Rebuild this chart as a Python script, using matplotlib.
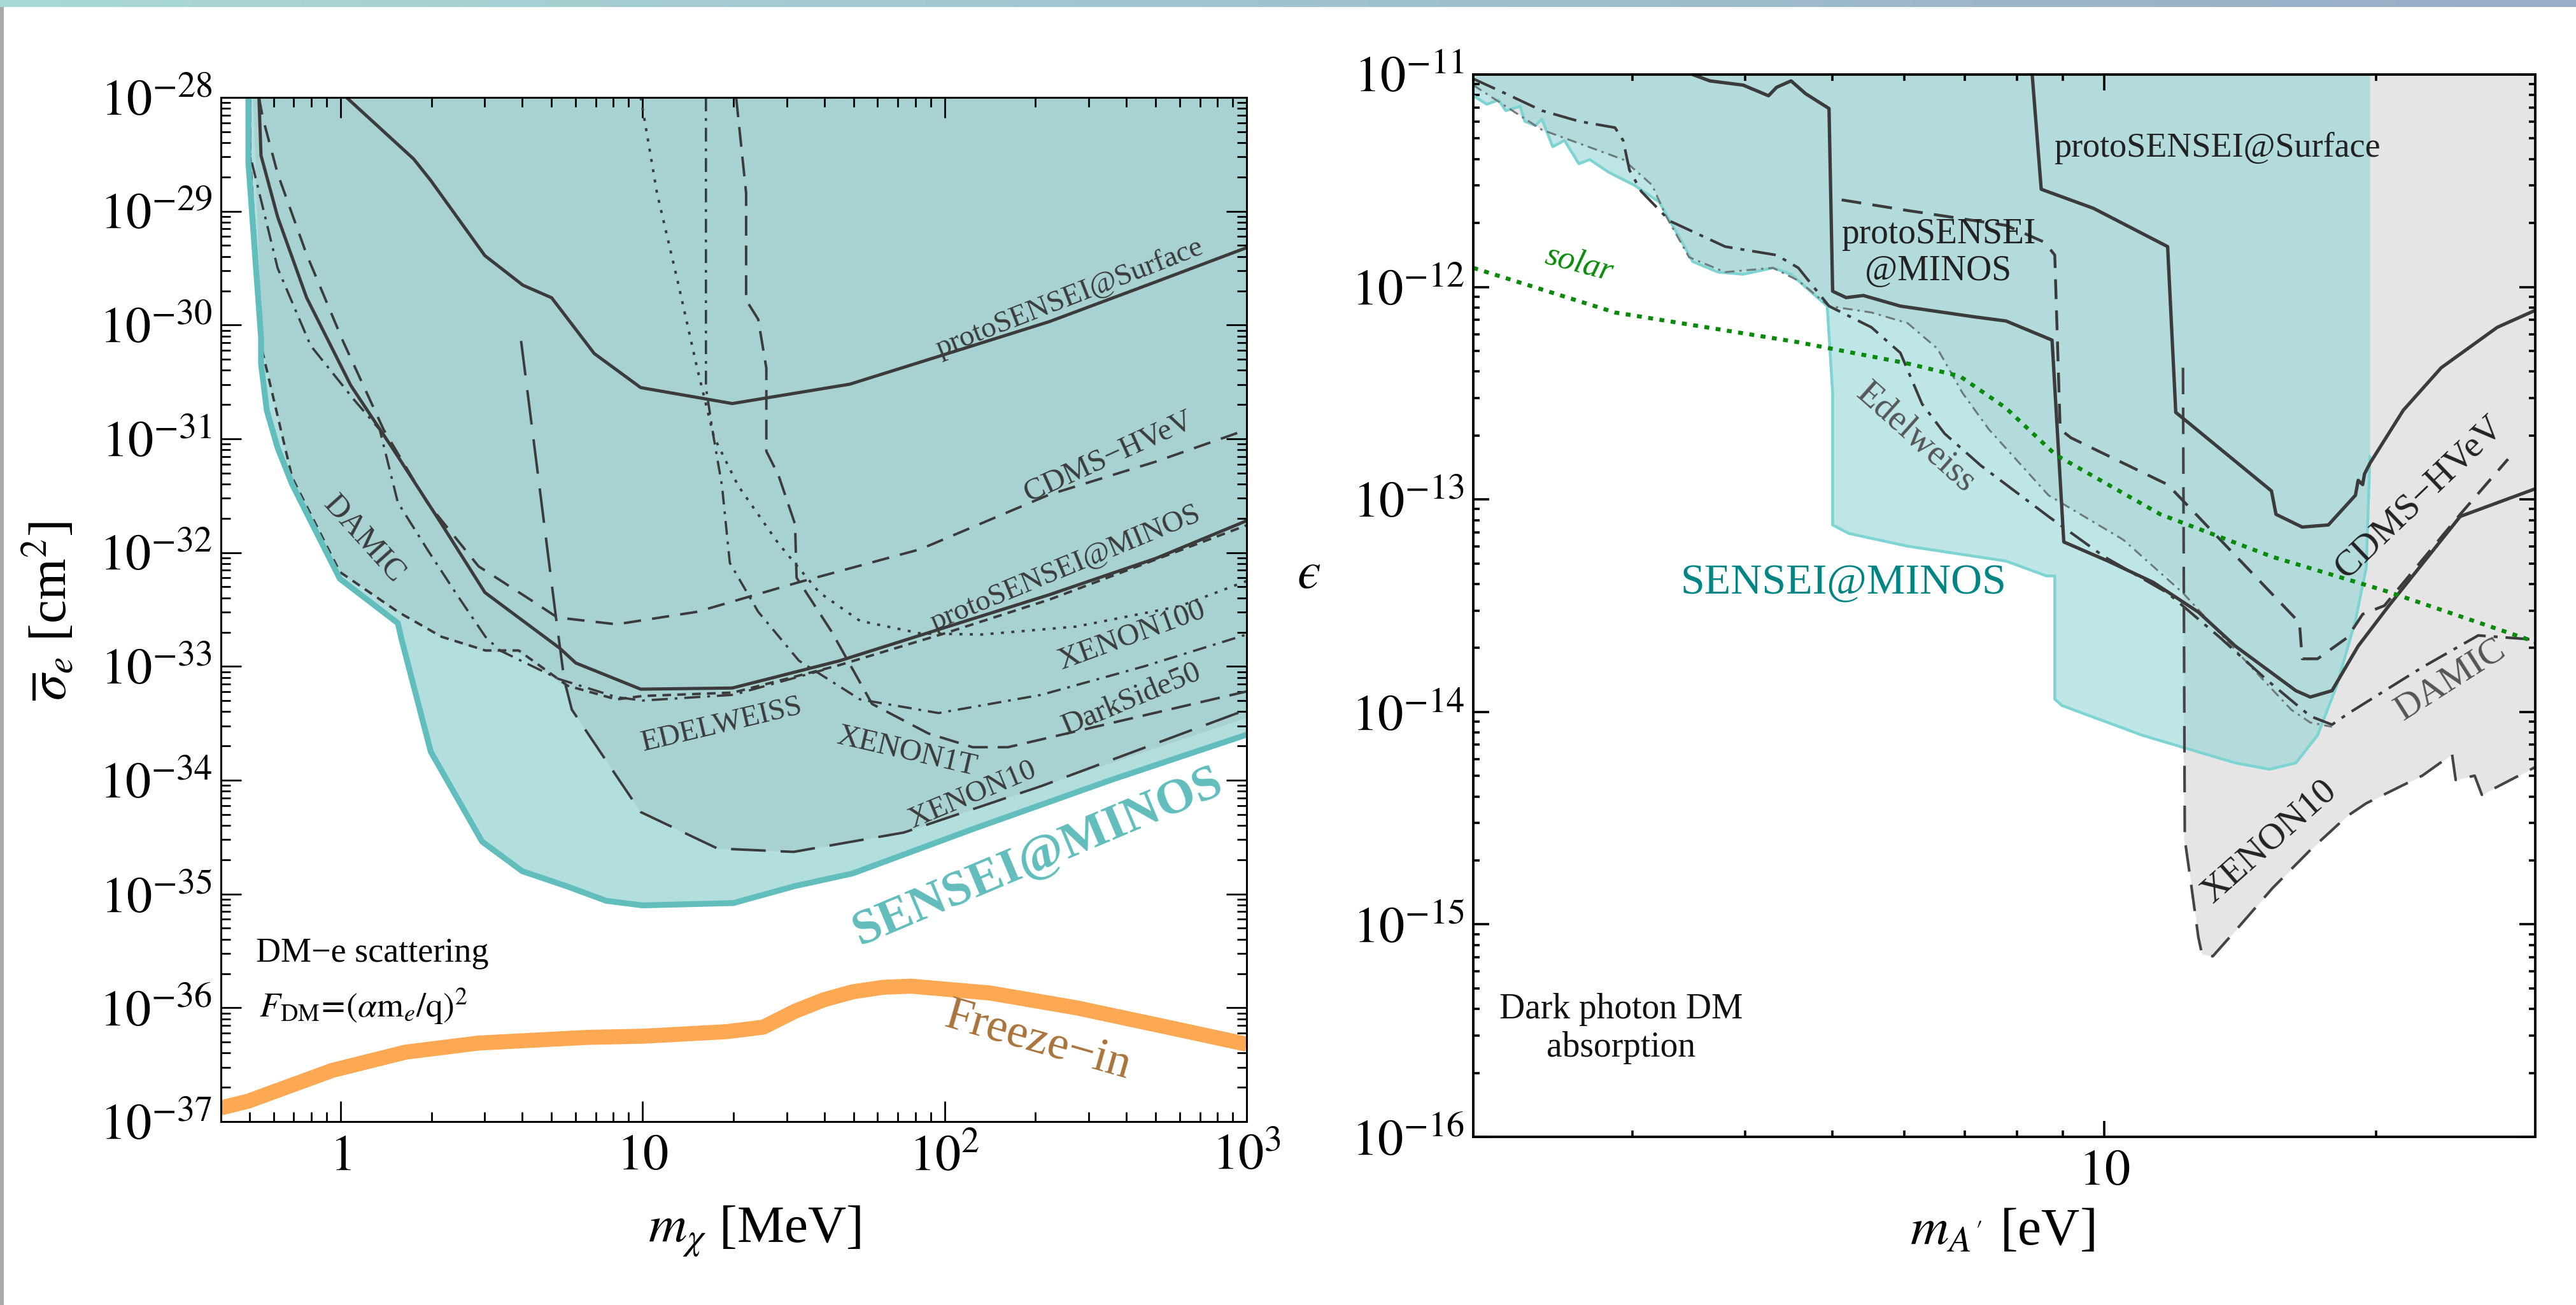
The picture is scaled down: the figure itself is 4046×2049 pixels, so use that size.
import numpy as np
import matplotlib.pyplot as plt
from matplotlib.colors import LinearSegmentedColormap
from matplotlib.patches import Rectangle
from matplotlib.ticker import LogLocator, NullFormatter

plt.rcParams['font.family'] = ['Liberation Serif', 'DejaVu Serif']
plt.rcParams['mathtext.fontset'] = 'stix'

# ---------------- left panel: DM-e scattering ----------------
# all curves: log10(m_chi / MeV), log10(sigma_e / cm^2)
sensei_lm = [-0.305, -0.305, -0.263, -0.263, -0.244, -0.208, -0.16, -0.002, 0.19, 0.202, 0.299,
             0.469, 0.602, 0.747, 0.88, 1.0, 1.30, 1.505, 1.695, 2.093, 2.549, 3.0]
sensei_ls = [-28.0, -28.57, -30.11, -30.34, -30.75, -31.08, -31.40, -32.23, -32.62, -32.76, -33.75,
             -34.54, -34.80, -34.93, -35.06, -35.10, -35.08, -34.93, -34.82, -34.43, -34.00, -33.60]

# lower edge of the region already excluded by other experiments
env_lm = [-0.29, -0.27, -0.26, -0.232, -0.16, 0.0, 0.19, 0.335, 0.48, 0.59, 0.739, 0.766, 0.994,
          1.248, 1.50, 1.865, 2.322, 3.0]
env_ls = [-28.0, -29.5, -30.18, -30.53, -31.34, -32.17, -32.52, -32.74, -32.87, -32.88, -33.17, -33.38,
          -34.28, -34.60, -34.63, -34.46, -34.05, -33.45]

surf_lm = [0.02, 0.242, 0.299, 0.478, 0.604, 0.699, 0.84, 0.994, 1.297, 1.686, 1.987, 2.347, 2.70, 3.0]
surf_ls = [-28.0, -28.54, -28.73, -29.39, -29.65, -29.76, -30.25, -30.55, -30.69, -30.52, -30.27,
           -29.97, -29.62, -29.32]

minos_lm = [-0.27, -0.263, -0.208, -0.112, 0.034, 0.179, 0.335, 0.478, 0.726, 0.779, 0.994, 1.297,
            1.653, 1.987, 2.347, 2.70, 3.0]
minos_ls = [-28.0, -28.51, -29.05, -29.76, -30.53, -31.11, -31.75, -32.35, -32.84, -32.97, -33.20,
            -33.19, -32.95, -32.67, -32.37, -32.05, -31.72]

cdms_lm = [-0.27, -0.257, -0.208, -0.112, 0.008, 0.143, 0.287, 0.457, 0.644, 0.718, 0.914, 1.181,
           1.518, 1.92, 2.347, 2.70, 3.0]
cdms_ls = [-28.0, -28.18, -28.67, -29.38, -30.14, -30.92, -31.56, -32.12, -32.44, -32.57, -32.63,
           -32.52, -32.26, -31.97, -31.49, -31.20, -30.92]

damic_lm = [-0.30, -0.299, -0.263, -0.232, -0.16, -0.002, 0.19, 0.335, 0.48, 0.59, 0.752, 0.914,
            1.0, 1.3, 1.65, 2.0, 2.35, 3.0]
damic_ls = [-28.0, -28.51, -30.18, -30.53, -31.34, -32.17, -32.52, -32.74, -32.86, -32.86, -33.17,
            -33.29, -33.26, -33.23, -32.99, -32.71, -32.41, -31.76]

edel_lm = [-0.30, -0.299, -0.208, -0.099, 0.046, 0.13, 0.19, 0.287, 0.383, 0.48, 0.528, 0.722,
           0.914, 1.0, 1.3, 1.6]
edel_ls = [-28.0, -28.51, -29.50, -30.18, -30.66, -30.92, -31.56, -31.97, -32.36, -32.74, -32.86,
           -33.11, -33.27, -33.30, -33.25, -33.03]

x10_lm = [0.598, 0.712, 0.741, 0.766, 0.994, 1.248, 1.50, 1.865, 2.322, 3.0]
x10_ls = [-30.14, -32.54, -33.12, -33.38, -34.28, -34.60, -34.63, -34.46, -34.05, -33.38]

x100_lm = [0.994, 1.048, 1.116, 1.181, 1.236, 1.316, 1.45, 1.585, 1.72, 1.92, 2.122, 2.436, 2.78, 3.0]
x100_ls = [-28.0, -28.84, -29.61, -30.38, -30.98, -31.41, -31.92, -32.35, -32.60, -32.71, -32.72,
           -32.65, -32.47, -32.25]

ds50_lm = [1.21, 1.21, 1.235, 1.263, 1.289, 1.383, 1.518, 1.72, 1.98, 2.32, 2.66, 3.0]
ds50_ls = [-28.0, -30.55, -30.98, -31.41, -32.09, -32.52, -32.95, -33.29, -33.41, -33.25, -33.0, -32.72]

x1t_lm = [1.31, 1.343, 1.343, 1.383, 1.41, 1.41, 1.45, 1.505, 1.51, 1.625, 1.76, 1.947, 2.093, 2.21,
          2.436, 3.0]
x1t_ls = [-28.0, -28.84, -29.78, -29.95, -30.38, -31.11, -31.32, -31.75, -32.22, -32.69, -33.33,
          -33.59, -33.71, -33.71, -33.57, -33.22]

fi_lm = [-0.396, -0.305, -0.027, 0.215, 0.457, 0.819, 1.0, 1.278, 1.40, 1.505, 1.60, 1.695, 1.796,
         1.888, 2.15, 2.436, 2.72, 3.0]
fi_ls = [-36.88, -36.82, -36.55, -36.39, -36.31, -36.26, -36.25, -36.21, -36.17, -36.03, -35.93,
         -35.86, -35.82, -35.81, -35.87, -36.0, -36.16, -36.32]

left_xticks = [1, 10, 100, 1000]
left_xticklabels = ['$1$', '$10$', '$10^2$', '$10^3$']
left_yexp = [-28, -29, -30, -31, -32, -33, -34, -35, -36, -37]

# ---------------- right panel: dark photon absorption ----------------
# log10(m_A' / eV), log10(epsilon)
rsen_lm = [0.301, 0.316, 0.329, 0.337, 0.353, 0.358, 0.370, 0.377, 0.389, 0.402, 0.418, 0.430, 0.451,
           0.479, 0.507, 0.531, 0.544, 0.572, 0.60, 0.633, 0.653, 0.693, 0.699, 0.699, 0.717, 0.782,
           0.891, 0.936, 0.945, 0.945, 0.953, 1.042, 1.145, 1.183, 1.212, 1.236, 1.257, 1.278, 1.29,
           1.294, 1.294]
rsen_le = [-11.10, -11.14, -11.12, -11.17, -11.15, -11.22, -11.24, -11.21, -11.34, -11.31, -11.42,
           -11.40, -11.46, -11.52, -11.60, -11.78, -11.88, -11.93, -11.94, -11.91, -11.94, -12.09,
           -12.50, -13.12, -13.16, -13.22, -13.29, -13.36, -13.36, -13.94, -13.97, -14.11, -14.24,
           -14.27, -14.24, -14.11, -13.88, -13.57, -13.32, -12.80, -11.0]

renv_lm = [0.301, 0.377, 0.467, 0.499, 0.515, 0.54, 0.58, 0.633, 0.661, 0.695, 0.742, 0.782, 0.815,
           0.843, 0.872, 0.938, 1.021, 1.087, 1.088, 1.095, 1.104, 1.108, 1.12, 1.145, 1.186, 1.228,
           1.269, 1.29, 1.352, 1.385, 1.389, 1.41, 1.418, 1.477]
renv_le = [-11.05, -11.26, -11.40, -11.52, -11.67, -11.86, -11.93, -11.91, -11.97, -12.09, -12.12,
           -12.17, -12.29, -12.50, -12.67, -12.98, -13.19, -13.42, -14.6, -14.78, -15.06, -15.14,
           -15.15, -15.03, -14.83, -14.65, -14.49, -14.43, -14.30, -14.20, -14.32, -14.30, -14.39, -14.26]

rsurf_lm = [0.92, 0.930, 0.988, 1.07, 1.079, 1.185, 1.19, 1.219, 1.248, 1.278, 1.281, 1.286, 1.288,
            1.294, 1.331, 1.373, 1.435, 1.477]
rsurf_le = [-11.0, -11.54, -11.63, -11.81, -12.59, -12.96, -13.07, -13.13, -13.12, -12.98, -12.91,
            -12.93, -12.88, -12.83, -12.58, -12.38, -12.19, -12.11]

rminos_lm = [0.544, 0.563, 0.60, 0.628, 0.637, 0.653, 0.669, 0.695, 0.699, 0.714, 0.733, 0.774, 0.855,
             0.891, 0.942, 0.955, 1.004, 1.054, 1.104, 1.145, 1.212, 1.228, 1.252, 1.281, 1.315,
             1.394, 1.477]
rminos_le = [-11.0, -11.03, -11.05, -11.10, -11.06, -11.03, -11.09, -11.16, -12.02, -12.05, -12.04,
             -12.09, -12.14, -12.16, -12.25, -13.20, -13.29, -13.39, -13.53, -13.69, -13.90, -13.93,
             -13.90, -13.69, -13.50, -13.08, -12.95]

rcdms_lm = [0.709, 0.782, 0.891, 0.934, 0.945, 0.951, 0.963, 1.07, 1.216, 1.219, 1.236, 1.269, 1.286,
            1.310, 1.394, 1.447]
rcdms_le = [-11.59, -11.64, -11.71, -11.79, -11.85, -12.67, -12.71, -12.93, -13.58, -13.75, -13.75,
            -13.65, -13.54, -13.50, -13.07, -12.81]

rdamic_lm = [0.301, 0.337, 0.377, 0.418, 0.458, 0.467, 0.474, 0.487, 0.519, 0.58, 0.637, 0.661, 0.695,
             0.742, 0.774, 0.798, 0.823, 0.863, 0.938, 1.0, 1.07, 1.128, 1.18, 1.228, 1.252, 1.269,
             1.352, 1.414, 1.477]
rdamic_le = [-11.02, -11.09, -11.17, -11.22, -11.25, -11.31, -11.45, -11.55, -11.69, -11.81, -11.85,
             -11.91, -12.09, -12.19, -12.31, -12.55, -12.69, -12.84, -13.08, -13.27, -13.44, -13.65,
             -13.85, -14.02, -14.06, -14.01, -13.79, -13.64, -13.66]

redel_lm = [0.301, 0.377, 0.467, 0.499, 0.515, 0.54, 0.58, 0.633, 0.661, 0.695, 0.742, 0.782, 0.815,
            0.843, 0.872, 0.938, 1.021, 1.087, 1.154, 1.207, 1.228, 1.252]
redel_le = [-11.05, -11.26, -11.40, -11.52, -11.67, -11.86, -11.93, -11.91, -11.97, -12.09, -12.12,
            -12.17, -12.29, -12.50, -12.67, -12.98, -13.19, -13.44, -13.75, -13.99, -14.05, -14.07]

rx10_lm = [1.087, 1.089, 1.095, 1.104, 1.108, 1.12, 1.145, 1.186, 1.228, 1.269, 1.29, 1.352, 1.385,
           1.389, 1.41, 1.418, 1.477]
rx10_le = [-12.38, -14.6, -14.78, -15.06, -15.14, -15.15, -15.03, -14.83, -14.65, -14.49, -14.43,
           -14.30, -14.20, -14.32, -14.30, -14.39, -14.26]

solar_lm = [0.301, 0.458, 0.661, 0.782, 0.84, 0.891, 0.946, 1.062, 1.186, 1.311, 1.477]
solar_le = [-11.91, -12.12, -12.26, -12.36, -12.42, -12.57, -12.79, -13.07, -13.27, -13.43, -13.67]

right_xticks = [10]
right_xticklabels = ['$10$']
right_yexp = [-11, -12, -13, -14, -15, -16]


def P(a):
    return 10 ** np.asarray(a, dtype=float)


DARK = '#3b3b3b'
W, H = 4046, 2049
fig = plt.figure(figsize=(W / 200, H / 200), dpi=200)

# slide decoration
band = fig.add_axes([0, 1 - 11 / H, 1, 11 / H])
band.imshow(np.linspace(0, 1, 256)[None, :], aspect='auto',
            cmap=LinearSegmentedColormap.from_list('band', ['#A9D8D5', '#98ADC7']))
band.axis('off')
fig.add_artist(Rectangle((0, 0), 6 / W, 1 - 11 / H, transform=fig.transFigure,
                         color='#A9A9A9', lw=0))

# ================= left =================
axL = fig.add_axes([347 / W, 1 - 1761 / H, (1958 - 347) / W, (1761 - 153) / H])
axL.set_xscale('log')
axL.set_yscale('log')
axL.set_xlim(0.402, 1000)
axL.set_ylim(1e-37, 1e-28)

axL.fill_between(P(sensei_lm), P(sensei_ls), 1e-28, color='#B3DEDE', lw=0, zorder=1)
axL.fill_between(P(env_lm), P(env_ls), 1e-28, color='#A8D1D1', lw=0, zorder=1.1)

axL.plot(P(sensei_lm), P(sensei_ls), color='#62BDBD', lw=3.3, zorder=3)
axL.plot(P(surf_lm), P(surf_ls), color=DARK, lw=1.8, zorder=2)
axL.plot(P(minos_lm), P(minos_ls), color=DARK, lw=1.8, zorder=2)
axL.plot(P(cdms_lm), P(cdms_ls), color=DARK, lw=1.4, ls=(0, (7, 4.5)), zorder=2)
axL.plot(P(damic_lm), P(damic_ls), color=DARK, lw=1.4, ls=(0, (3.5, 2.5)), zorder=2)
axL.plot(P(edel_lm), P(edel_ls), color=DARK, lw=1.3, ls=(0, (7, 3, 1.2, 3)), zorder=2)
axL.plot(P(x10_lm), P(x10_ls), color=DARK, lw=1.4, ls=(0, (14, 6)), zorder=2)
axL.plot(P(x100_lm), P(x100_ls), color=DARK, lw=1.4, ls=(0, (1.2, 3)), zorder=2)
axL.plot(P(ds50_lm), P(ds50_ls), color=DARK, lw=1.3, ls=(0, (6, 3, 1.2, 3)), zorder=2)
axL.plot(P(x1t_lm), P(x1t_ls), color=DARK, lw=1.4, ls=(0, (8, 4)), zorder=2)
axL.plot(P(fi_lm), P(fi_ls), color='#FDA853', lw=8.5, solid_capstyle='butt', zorder=2)

lab = dict(color=DARK, ha='center', va='center', rotation_mode='anchor', zorder=4)
axL.text(10 ** 2.413, 10 ** -29.76, 'protoSENSEI@Surface', fontsize=17, rotation=21.3, **lab)
axL.text(10 ** 2.543, 10 ** -31.16, 'CDMS\u2212HVeV', fontsize=17.5, rotation=24.5, **lab)
axL.text(10 ** 2.40, 10 ** -32.14, 'protoSENSEI@MINOS', fontsize=17, rotation=22.4, **lab)
axL.text(10 ** 2.62, 10 ** -32.73, 'XENON100', fontsize=17.5, rotation=20, **lab)
axL.text(10 ** 2.62, 10 ** -33.29, 'DarkSide50', fontsize=17.5, rotation=22.6, **lab)
axL.text(10 ** 1.876, 10 ** -33.75, 'XENON1T', fontsize=17.5, rotation=-13, **lab)
axL.text(10 ** 2.093, 10 ** -34.13, 'XENON10', fontsize=17, rotation=22.7, **lab)
axL.text(10 ** 1.263, 10 ** -33.51, 'EDELWEISS', fontsize=17, rotation=13.3, **lab)
axL.text(10 ** 0.078, 10 ** -31.88, 'DAMIC', fontsize=18, rotation=-48, **lab)
axL.text(10 ** 2.31, 10 ** -34.68, 'SENSEI@MINOS', fontsize=28.5, fontweight='bold', color='#62BDBD',
         rotation=22.8, ha='center', va='center', rotation_mode='anchor', zorder=4)
axL.text(10 ** 2.31, 10 ** -36.30, 'Freeze\u2212in', fontsize=27, color='#A8743C', rotation=-16,
         ha='center', va='center', rotation_mode='anchor', zorder=4)
axL.text(10 ** -0.28, 10 ** -35.52, 'DM\u2212e scattering', fontsize=19.5, ha='left', va='center')
axL.text(10 ** -0.27, 10 ** -35.99, r'$F_{\mathrm{DM}}\!=\!(\alpha\mathrm{m}_e/\mathrm{q})^2$',
         fontsize=19.5, ha='left', va='center')

axL.set_xticks(left_xticks)
axL.set_xticklabels(left_xticklabels)
axL.set_yticks([10.0 ** e for e in left_yexp])
axL.set_yticklabels([f'$10^{{{e}}}$' for e in left_yexp])
for a in (axL.xaxis, axL.yaxis):
    a.set_minor_locator(LogLocator(base=10, subs=np.arange(2, 10), numticks=60))
    a.set_minor_formatter(NullFormatter())
axL.tick_params(which='both', direction='in', top=True, right=True, labelsize=29, width=1.0)
axL.tick_params(which='major', length=11.5)
axL.tick_params(which='minor', length=5.5)
axL.tick_params(axis='x', pad=7)
axL.tick_params(axis='y', pad=5)
for s in axL.spines.values():
    s.set_linewidth(1.1)
    s.set_zorder(5)

fig.text(1185 / W, 1 - 1933 / H, r'$m_\chi$ [MeV]', fontsize=30, ha='center', va='center')
fig.text(79 / W, 1 - 960 / H, r'$\overline{\sigma}_e$ [cm$^2$]', fontsize=30, ha='center',
         va='center', rotation=90)

# ================= right =================
axR = fig.add_axes([2314 / W, 1 - 1785 / H, (3982 - 2314) / W, (1785 - 117) / H])
axR.set_xscale('log')
axR.set_yscale('log')
axR.set_xlim(2, 30)
axR.set_ylim(1e-16, 1e-11)

axR.fill_between(P(renv_lm), P(renv_le), 1e-11, color='#E5E5E5', lw=0, zorder=1)
axR.fill_between(P(rsen_lm), P(rsen_le), 1e-11, color=(143 / 255, 212 / 255, 212 / 255),
                 alpha=0.58, lw=0, zorder=1.1)

axR.plot(P(rsen_lm[:-1]), P(rsen_le[:-1]), color='#7ED3D3', lw=1.6, zorder=2)
axR.plot(P(redel_lm), P(redel_le), color='#6E7A7A', lw=1.1, ls=(0, (5, 2.5, 1.2, 2.5)), zorder=2)
axR.plot(P(rdamic_lm), P(rdamic_le), color=DARK, lw=1.5, ls=(0, (9, 3, 1.5, 3)), zorder=2)
axR.plot(P(rx10_lm), P(rx10_le), color='#444444', lw=1.5, ls=(0, (10, 5)), zorder=2)
axR.plot(P(rcdms_lm), P(rcdms_le), color=DARK, lw=1.6, ls=(0, (7, 4)), zorder=2)
axR.plot(P(rminos_lm), P(rminos_le), color=DARK, lw=1.9, zorder=2.5)
axR.plot(P(rsurf_lm), P(rsurf_le), color=DARK, lw=1.9, zorder=2.5)
axR.plot(P(solar_lm), P(solar_le), color='#0A8A0A', lw=2.3, ls=(0, (1.2, 1.6)), zorder=3)

rl = dict(ha='center', va='center', rotation_mode='anchor', zorder=4)
axR.text(10 ** 0.944, 10 ** -11.345, 'protoSENSEI@Surface', fontsize=19.5, color='#222222',
         ha='left', va='center', zorder=4)
axR.text(10 ** 0.816, 10 ** -11.84, 'protoSENSEI\n@MINOS', fontsize=20, color='#222222',
         multialignment='center', linespacing=1.15, **rl)
axR.text(10 ** 0.791, 10 ** -12.71, 'Edelweiss', fontsize=20.5, color='#555555', rotation=-41.6, **rl)
axR.text(10 ** 0.711, 10 ** -13.395, 'SENSEI@MINOS', fontsize=24.5, color='#008585', **rl)
axR.text(10 ** 0.418, 10 ** -11.89, 'solar', fontsize=19, color='#0A8A0A', style='italic',
         rotation=-15, **rl)
axR.text(10 ** 1.349, 10 ** -12.99, 'CDMS\u2212HVeV', fontsize=21, color='#222222', rotation=43.7, **rl)
axR.text(10 ** 1.383, 10 ** -13.85, 'DAMIC', fontsize=21, color='#555555', rotation=32.5, **rl)
axR.text(10 ** 1.183, 10 ** -14.61, 'XENON10', fontsize=21, color='#222222', rotation=41.5, **rl)
axR.text(10 ** 0.465, 10 ** -15.49, 'Dark photon DM\nabsorption', fontsize=20, color='#111111',
         multialignment='center', linespacing=1.2, **rl)

axR.set_xticks(right_xticks)
axR.set_xticklabels(right_xticklabels)
axR.set_yticks([10.0 ** e for e in right_yexp])
axR.set_yticklabels([f'$10^{{{e}}}$' for e in right_yexp])
for a in (axR.xaxis, axR.yaxis):
    a.set_minor_locator(LogLocator(base=10, subs=np.arange(2, 10), numticks=60))
    a.set_minor_formatter(NullFormatter())
axR.tick_params(which='both', direction='in', top=True, right=True, labelsize=29, width=1.3)
axR.tick_params(which='major', length=9)
axR.tick_params(which='minor', length=3.7)
axR.tick_params(axis='x', pad=7)
axR.tick_params(axis='y', pad=5)
for s in axR.spines.values():
    s.set_linewidth(1.4)
    s.set_zorder(5)

fig.text(2056 / W, 1 - 903 / H, '$\u03f5$', fontsize=30, ha='center', va='center')
fig.text(3145 / W, 1 - 1935 / H, r"$m_{A'}$ [eV]", fontsize=30, ha='center', va='center')

fig.savefig('out.png', dpi=200)
